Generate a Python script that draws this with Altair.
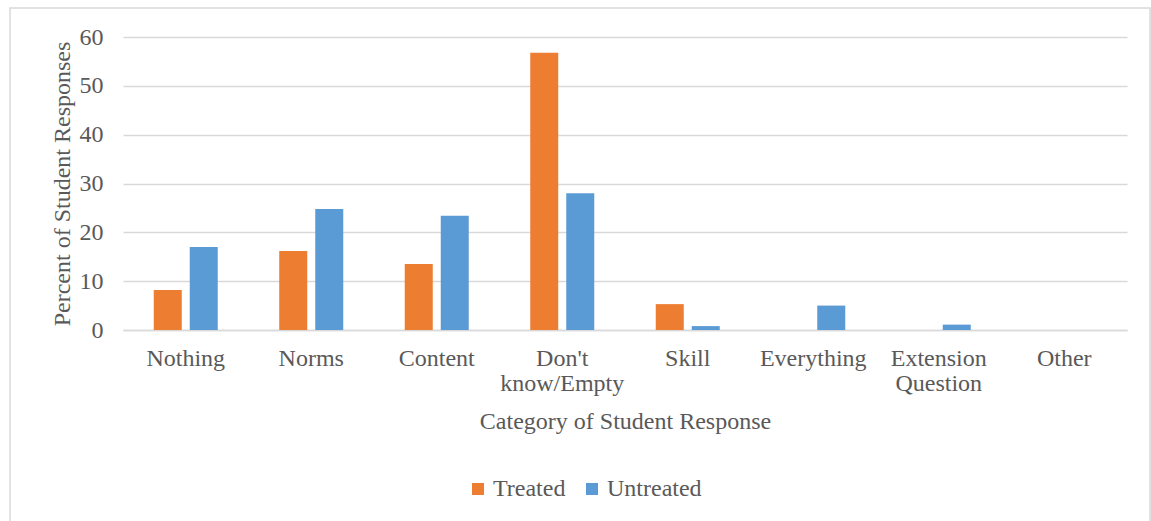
import altair as alt
import pandas as pd

categories = ["Nothing", "Norms", "Content", "Don't know/Empty", "Skill",
              "Everything", "Extension Question", "Other"]
treated = [8.2, 16.2, 13.5, 56.8, 5.3, 0, 0, 0]
untreated = [17.0, 24.8, 23.4, 28.0, 0.8, 5.0, 1.1, 0]
series = ["Treated", "Untreated"]
colors = ["#ED7D31", "#5B9BD5"]

rows = []
for c, t, u in zip(categories, treated, untreated):
    rows.append({"Category": c, "Series": "Treated", "Value": t})
    rows.append({"Category": c, "Series": "Untreated", "Value": u})
df = pd.DataFrame(rows)

FONT = "Liberation Serif"
GRAY = "#595959"
GRID = "#D9D9D9"
FS = 24

bars = alt.Chart(df).mark_bar().encode(
    x=alt.X("Category:N", sort=categories,
            scale=alt.Scale(domain=categories, paddingInner=0, paddingOuter=0),
            axis=alt.Axis(title="Category of Student Response", labelAngle=0,
                          labelExpr="split(datum.label, ' ')",
                          labelLineHeight=25, labelPadding=16, ticks=False,
                          domainColor=GRID, domainWidth=1.5,
                          titlePadding=14)),
    xOffset=alt.XOffset("Series:N", sort=series,
                        scale=alt.Scale(paddingInner=0.222, paddingOuter=0.854)),
    y=alt.Y("Value:Q", scale=alt.Scale(domain=[0, 60], nice=False),
            axis=alt.Axis(title="Percent of Student Responses", values=[0, 10, 20, 30, 40, 50, 60],
                          domain=False, ticks=False, labelPadding=20, titlePadding=5,
                          gridColor=GRID, gridWidth=1.5)),
    color=alt.Color("Series:N", sort=series,
                    scale=alt.Scale(domain=series, range=colors),
                    legend=alt.Legend(title=None, orient="none", direction="horizontal",
                                      legendX=343, legendY=440, symbolType="square",
                                      symbolSize=144, symbolStrokeWidth=0,
                                      labelFontSize=FS, labelFont=FONT, labelColor=GRAY,
                                      columnPadding=14, labelOffset=3)),
)

border = alt.Chart(pd.DataFrame({"a": [0]})).mark_rect(
    fill=None, stroke=GRID, strokeWidth=1.5, clip=False
).encode(
    x=alt.value(-113), x2=alt.value(1027), y=alt.value(-29), y2=alt.value(500)
)

chart = alt.layer(border, bars).properties(
    width=1004, height=293,
    autosize=alt.AutoSizeParams(type="none"),
    padding={"left": 123, "top": 37, "right": 24, "bottom": 191},
    background="white",
).configure_view(stroke=None).configure_axis(
    labelFont=FONT, titleFont=FONT, labelFontSize=FS, titleFontSize=FS,
    labelColor=GRAY, titleColor=GRAY, titleFontWeight="normal"
)

chart.save("out.html", embed_options={"renderer": "svg", "actions": False})
